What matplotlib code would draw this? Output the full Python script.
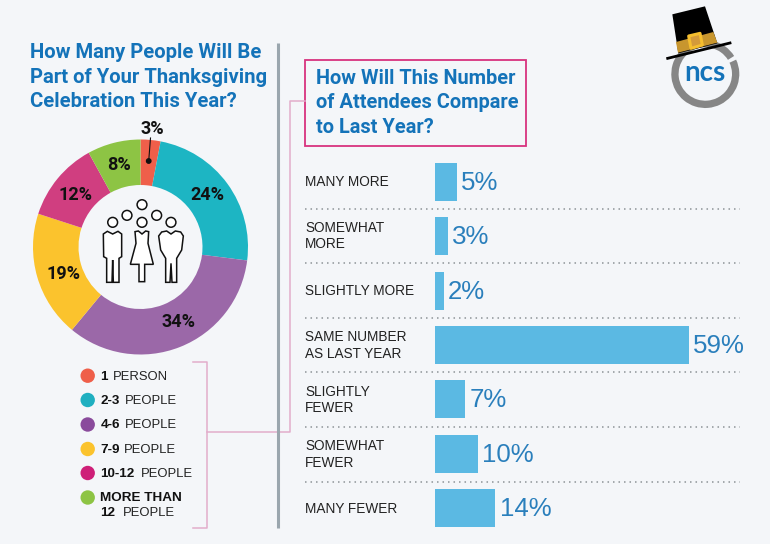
import matplotlib
matplotlib.use("Agg")
import matplotlib.pyplot as plt
from matplotlib.patches import Polygon, Circle, Wedge, Rectangle

NARROW = "Roboto"
BODY = "Liberation Sans"

# data
pie_labels = ["1 PERSON", "2-3 PEOPLE", "4-6 PEOPLE", "7-9 PEOPLE", "10-12 PEOPLE", "MORE THAN 12 PEOPLE"]
pie_values = [3, 24, 34, 19, 12, 8]
pie_colors = ["#EF5F4A", "#1DB5C3", "#9B68A8", "#FBC32D", "#D03E80", "#8DC444"]
legend_dots = ["#EF5F4A", "#1FAFC0", "#8A4B9C", "#FBC32D", "#CE1F78", "#8DC444"]
bar_labels = ["MANY MORE", "SOMEWHAT\nMORE", "SLIGHTLY MORE", "SAME NUMBER\nAS LAST YEAR",
              "SLIGHTLY\nFEWER", "SOMEWHAT\nFEWER", "MANY FEWER"]
bar_values = [5, 3, 2, 59, 7, 10, 14]

BG = "#F4F6F9"
BLUE = "#1473B9"
PINK = "#E3ADCB"
W, H = 770, 544
fig = plt.figure(figsize=(W / 100, H / 100), dpi=100, facecolor=BG)

def axpx(x0, y0, x1, y1, **kw):
    return fig.add_axes([x0 / W, 1 - y1 / H, (x1 - x0) / W, (y1 - y0) / H], **kw)

# donut
cx, cy, R = 140.5, 247, 107.5
pa = axpx(cx - R, cy - R, cx + R, cy + R)
pa.pie(pie_values, colors=pie_colors, startangle=90, counterclock=False, radius=1,
       wedgeprops=dict(width=45.5 / 107.5, linewidth=0))
pa.set_xlim(-1, 1); pa.set_ylim(-1, 1); pa.axis("off")

# bars
ba = axpx(435, 154.5, 770, 535.5)
ba.barh(range(len(bar_values)), bar_values, height=0.70, color="#5BB9E3")
ba.set_xlim(0, 335 / 4.3); ba.set_ylim(len(bar_values) - 0.5, -0.5); ba.axis("off")
for i, v in enumerate(bar_values):
    ba.annotate(f"{v}%", (v, i), xytext=(4.5, -1), textcoords="offset pixels", va="center", ha="left",
                fontsize=18.6, color="#2A7FBC", family=BODY)

# overlay in pixels
ov = fig.add_axes([0, 0, 1, 1], zorder=5)
ov.set_xlim(0, W); ov.set_ylim(H, 0); ov.axis("off"); ov.patch.set_alpha(0)

for i, t in enumerate(["How Many People Will Be", "Part of Your Thanksgiving", "Celebration This Year?"]):
    ov.text(30.5, 52.5 + i * 24.7, t, family=NARROW, fontweight="bold", fontsize=14.6, color=BLUE, va="center")
for i, t in enumerate(["How Will This Number", "of Attendees Compare", "to Last Year?"]):
    ov.text(316.5, 78.5 + i * 24.5, t, family=NARROW, fontweight="bold", fontsize=14.4, color=BLUE, va="center")

# donut labels
for (x, y), t in zip([(152, 129), (207, 195), (178, 322), (63, 274), (75, 195), (119, 165)],
                     [f"{v}%" for v in pie_values]):
    ov.text(x, y, t, family=NARROW, fontweight="bold", fontsize=13, color="#111", ha="center", va="center")
ov.plot([150.5, 148.7], [138, 161], color="#111", lw=0.8)
ov.add_patch(Circle((148.7, 161), 2.2, color="#111"))

# people icon
def z(pts):
    return [(x / 3, 30 + y / 3) for x, y in pts]
icon = dict(facecolor="white", edgecolor="#111", lw=1.1)
man1 = [(310,612),(322,604),(338,612),(354,604),(365,612),(365,680),(357,685),(357,757),(340,757),(338,690),(336,757),(320,757),(320,685),(311,680)]
woman = [(405,605),(415,603),(426,612),(437,603),(446,605),(444,640),(460,703),(434,703),(434,755),(417,755),(417,703),(391,703),(408,640)]
man2 = [(476,618),(485,606),(500,603),(513,612),(526,603),(542,606),(550,618),(545,660),(530,685),(530,757),(516,757),(513,700),(510,757),(497,757),(497,685),(482,660)]
for p in (man1, woman, man2):
    ov.add_patch(Polygon(z(p), closed=True, **icon))
for x, y in [(338,577),(426,577),(513,577),(381,556),(426,524),(470,556)]:
    ov.add_patch(Circle((x / 3, 30 + y / 3), 4.9, **icon))

# legend
legend_y = [375.7, 400, 424.5, 449, 473, 497.5]
legend_bold = ["1", "2-3", "4-6", "7-9", "10-12", "MORE THAN"]
legend_rest = [(113, "PERSON"), (124.5, "PEOPLE"), (125, "PEOPLE"), (124, "PEOPLE"), (141, "PEOPLE"), None]
for y, c, b, r in zip(legend_y, legend_dots, legend_bold, legend_rest):
    ov.add_patch(Circle((87.7, y), 7.2, color=c, lw=0))
    ov.text(100.3, y + 0.8, b, family=BODY, fontweight="bold", fontsize=9.7, color="#111", va="center")
    if r:
        ov.text(r[0], y + 0.8, r[1], family=BODY, fontsize=9.4, color="#222", va="center")
ov.text(100.3, 513, "12", family=BODY, fontweight="bold", fontsize=9.7, color="#111", va="center")
ov.text(122.7, 513, "PEOPLE", family=BODY, fontsize=9.4, color="#222", va="center")

# brackets and connectors
ov.plot([193, 207, 207, 193], [362, 362, 527.5, 527.5], color=PINK, lw=1.1)
ov.plot([207, 290, 290, 305], [431.5, 431.5, 101, 101], color=PINK, lw=1.1)
ov.plot([278, 278], [43, 528], color="#9AA6AE", lw=2.2, solid_capstyle="butt", zorder=3)
ov.add_patch(Rectangle((305, 60), 221, 85.5, fill=False, edgecolor="#D8337F", lw=1.3))

# row labels and dotted rules
for i, t in enumerate(bar_labels):
    ov.text(305, 181.5 + i * 54.6, t, family=BODY, fontsize=9.8, color="#222", va="center", linespacing=1.25)
for i in range(6):
    ov.plot([305, 740], [208.5 + i * 54.6] * 2, color="#8E9498", lw=1.1, dashes=(1, 2.6))

# logo
def lg(pts):
    return [(620 + x / 3, y / 3) for x, y in pts]
c = (705.3, 74)
ov.add_patch(Wedge(c, 34, -25, 328, width=7.3, color="#868686", lw=0))
ov.add_patch(Polygon(lg([(157,43),(255,19),(292,130),(175,160)]), color="#000", lw=0))
ov.add_patch(Polygon(lg([(168,126),(280,96),(292,128),(174,158)]), color="#C8962E", lw=0))
ov.add_patch(Polygon(lg([(138,172),(333,124),(335,132),(140,180)]), color="#000", lw=0))
ov.add_patch(Polygon(lg([(206,108),(240,100),(247,135),(213,145)]), facecolor="#D49A3A", edgecolor="#F5BE2E", lw=2.2, joinstyle="round"))
ov.text(705.3, 73, "ncs", family="Lato", fontweight="bold", fontsize=20, color=BLUE, ha="center", va="center")

fig.savefig("out.png", dpi=100, facecolor=BG)
